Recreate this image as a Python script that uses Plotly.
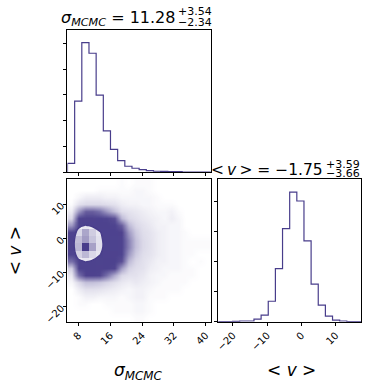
import numpy as np
import plotly.graph_objects as go

COLOR = "#483d8b"
FONT = "DejaVu Sans"

# axis ranges of the two parameters (min / max of the chain)
sigma_range = [5.25, 41.25]
v_range = [-24.3, 17.4]
n_bins = 20

# 1d histograms (counts per bin, 20 bins over the ranges above)
sigma_counts = [346, 2756, 5026, 4615, 2987, 1603, 885, 449, 231, 154,
                103, 64, 38, 30, 25, 20, 8, 5, 3, 2]
v_counts = [2, 3, 8, 22, 22, 88, 220, 681, 1769, 3099,
            4319, 4022, 2692, 1253, 549, 187, 55, 22, 2, 1]

# 2d histogram counts, rows from top (high <v>) to bottom, columns sigma low -> high
hist2d_rows = [
    [0, 0, 0, 0, 0, 0, 0, 1, 0, 1, 1, 1, 0, 0, 0, 0, 0, 0, 0, 0],
    [0, 0, 0, 0, 1, 1, 1, 1, 1, 2, 2, 1, 0, 0, 0, 0, 0, 0, 0, 0],
    [0, 2, 4, 4, 4, 3, 3, 2, 2, 2, 2, 2, 1, 0, 0, 0, 0, 0, 0, 0],
    [1, 8, 12, 12, 12, 10, 7, 4, 3, 3, 2, 2, 1, 1, 1, 0, 0, 0, 0, 0],
    [4, 30, 45, 45, 40, 30, 20, 10, 6, 5, 4, 3, 2, 2, 3, 1, 0, 0, 0, 0],
    [12, 90, 150, 150, 130, 90, 50, 22, 12, 8, 5, 4, 3, 2, 4, 2, 0, 0, 0, 0],
    [30, 300, 420, 350, 280, 170, 95, 45, 22, 13, 8, 5, 3, 3, 2, 2, 0, 0, 0, 0],
    [70, 540, 885, 630, 430, 250, 140, 65, 30, 17, 10, 6, 4, 3, 2, 2, 1, 0, 0, 0],
    [100, 730, 940, 700, 470, 290, 160, 75, 35, 20, 12, 7, 4, 3, 2, 2, 1, 1, 1, 1],
    [100, 770, 1400, 910, 480, 300, 165, 78, 35, 20, 12, 7, 4, 3, 2, 2, 1, 1, 1, 1],
    [80, 590, 770, 540, 420, 270, 150, 70, 30, 17, 10, 6, 4, 3, 2, 2, 1, 1, 0, 0],
    [40, 320, 430, 380, 300, 200, 110, 50, 22, 13, 8, 5, 3, 3, 2, 2, 1, 0, 1, 0],
    [15, 110, 170, 170, 150, 100, 55, 28, 14, 10, 7, 4, 3, 2, 2, 2, 1, 1, 0, 0],
    [5, 40, 60, 60, 55, 40, 25, 12, 8, 7, 5, 3, 2, 2, 1, 1, 1, 1, 0, 0],
    [2, 12, 20, 20, 18, 14, 9, 5, 4, 5, 4, 3, 2, 1, 1, 1, 1, 0, 0, 0],
    [0, 4, 8, 8, 6, 5, 4, 3, 2, 3, 3, 2, 1, 1, 1, 1, 0, 0, 0, 0],
    [0, 1, 3, 3, 2, 2, 2, 1, 2, 3, 3, 1, 1, 1, 0, 0, 0, 0, 0, 0],
    [0, 1, 1, 0, 0, 1, 1, 1, 1, 2, 2, 1, 0, 0, 0, 0, 0, 0, 0, 0],
    [0, 0, 0, 0, 0, 0, 1, 1, 1, 2, 2, 1, 0, 0, 0, 0, 0, 0, 0, 0],
    [0, 0, 0, 0, 0, 0, 0, 0, 0, 1, 1, 0, 0, 0, 0, 0, 0, 0, 0, 0],
]
contour_level = 400

sigma_ticks = [8, 16, 24, 32, 40]
v_ticks = [-20, -10, 0, 10]
sigma_count_ticks = [0, 1000, 2000, 3000, 4000, 5000]
v_count_ticks = [0, 1000, 2000, 3000, 4000]

sigma_title = ["<i>σ</i><sub><i>MCMC</i></sub> = 11.28", "+3.54", "−2.34"]
v_title = ["&lt;\u2009<i>v</i>\u2009&gt; = −1.75", "+3.59", "−3.66"]
sigma_label = "<i>σ</i><sub><i>MCMC</i></sub>"
v_label = "&lt; <i>v</i> &gt;"

H = np.flipud(np.array(hist2d_rows, dtype=float))
sig_edges = np.linspace(sigma_range[0], sigma_range[1], n_bins + 1)
v_edges = np.linspace(v_range[0], v_range[1], n_bins + 1)
sig_c = 0.5 * (sig_edges[:-1] + sig_edges[1:])
v_c = 0.5 * (v_edges[:-1] + v_edges[1:])


def step(edges, counts):
    # outline of a step histogram, like histtype="step"
    xs = np.concatenate([[edges[0]], edges, [edges[-1]]])
    ys = np.concatenate([[0], counts, [counts[-1]], [0]])
    return xs, ys


fig = go.Figure()

# top: sigma histogram
sx, sy = step(sig_edges, sigma_counts)
fig.add_trace(go.Scatter(x=sx, y=sy, mode="lines", line=dict(color=COLOR, width=1.2, shape="hv"),
                         xaxis="x", yaxis="y", showlegend=False, hoverinfo="skip"))

# 2d panel: cloud of points (saturating opacity), white core inside the contour
haze = 0.95 * (1 - np.exp(-(H / 40.0) ** 2.2)) + 0.022 * np.minimum(H, 6)
haze = np.clip(haze, 0, 0.97)
fig.add_trace(go.Heatmap(x=sig_c, y=v_c, z=haze, zmin=0, zmax=1, zsmooth="best",
                         colorscale=[[0, "rgba(72,61,139,0)"], [1, "rgba(72,61,139,1)"]],
                         showscale=False, xaxis="x2", yaxis="y2", hoverinfo="skip"))
fig.add_trace(go.Contour(x=sig_c, y=v_c, z=H,
                         contours=dict(type="constraint", operation="<", value=contour_level),
                         fillcolor="white", line=dict(width=0, smoothing=1.3),
                         showscale=False, xaxis="x2", yaxis="y2", hoverinfo="skip"))
# density cells and contour line on an overlay so they sit above the white core
density_scale = [[s, "rgba(72,61,139,%.4f)" % (s ** 1.7)] for s in np.linspace(0, 1, 11)]
fig.add_trace(go.Heatmap(x=sig_c, y=v_c, z=H, zmin=0, zmax=H.max(),
                         colorscale=density_scale,
                         showscale=False, xaxis="x4", yaxis="y4", hoverinfo="skip"))
fig.add_trace(go.Contour(x=sig_c, y=v_c, z=H,
                         contours=dict(type="constraint", operation="<", value=contour_level),
                         fillcolor="rgba(0,0,0,0)", line=dict(color=COLOR, width=1.4, smoothing=1.3),
                         showscale=False, xaxis="x4", yaxis="y4", hoverinfo="skip"))

# right: <v> histogram
vx, vy = step(v_edges, v_counts)
fig.add_trace(go.Scatter(x=vx, y=vy, mode="lines", line=dict(color=COLOR, width=1.2, shape="hv"),
                         xaxis="x3", yaxis="y3", showlegend=False, hoverinfo="skip"))

W, Hpx = 374, 391


def px_x(p):
    return p / W


def px_y(p):
    return 1 - p / Hpx


ax = dict(showline=True, mirror=True, linecolor="black", linewidth=1, ticks="outside",
          ticklen=3, tickwidth=1, tickcolor="black", showgrid=False, zeroline=False,
          tickfont=dict(family=FONT, size=10, color="black"))

fig.update_layout(
    width=W, height=Hpx, margin=dict(l=0, r=0, t=0, b=0),
    paper_bgcolor="white", plot_bgcolor="white", showlegend=False,
    font=dict(family=FONT, color="black"),
    xaxis=dict(ax, domain=[px_x(65), px_x(209.5)], range=sigma_range, anchor="y",
               tickvals=sigma_ticks, showticklabels=False),
    yaxis=dict(ax, domain=[px_y(174), px_y(30)], range=[0, 1.1 * max(sigma_counts)], anchor="x",
               tickvals=sigma_count_ticks, showticklabels=False),
    xaxis2=dict(ax, domain=[px_x(65), px_x(209.5)], range=sigma_range, anchor="y2",
                tickvals=sigma_ticks, tickangle=-45),
    yaxis2=dict(ax, domain=[px_y(325), px_y(181)], range=v_range, anchor="x2",
                tickvals=v_ticks, tickangle=-45),
    xaxis3=dict(ax, domain=[px_x(217), px_x(361)], range=v_range, anchor="y3",
                tickvals=v_ticks, tickangle=-45),
    yaxis3=dict(ax, domain=[px_y(325), px_y(181)], range=[0, 1.1 * max(v_counts)], anchor="x3",
                tickvals=v_count_ticks, showticklabels=False),
    xaxis4=dict(overlaying="x2", range=sigma_range, anchor="y4", visible=False),
    yaxis4=dict(overlaying="y2", range=v_range, anchor="x4", visible=False),
)


def note(text, x, y, size, xanchor="center", angle=0):
    fig.add_annotation(text=text, x=px_x(x), y=px_y(y), xref="paper", yref="paper",
                       xanchor=xanchor, yanchor="middle", showarrow=False, textangle=angle,
                       font=dict(family=FONT, size=size, color="black"))


note(sigma_title[0], 175, 19, 16, "right")
note(sigma_title[1], 174, 11.7, 11, "left")
note(sigma_title[2], 174, 22.5, 11, "left")
note(v_title[0], 325, 172, 15.5, "right")
note(v_title[1], 324, 166, 11, "left")
note(v_title[2], 324, 175.5, 11, "left")
note(v_label, 13, 253, 17, angle=-90)
note(sigma_label, 137, 375, 17)
note(v_label, 291, 374, 17)

# drop the default 8px page margin so the figure sits at the window corner
fig.write_html("out.html", config={"displayModeBar": False},
               post_script="document.body.style.margin='0';")
